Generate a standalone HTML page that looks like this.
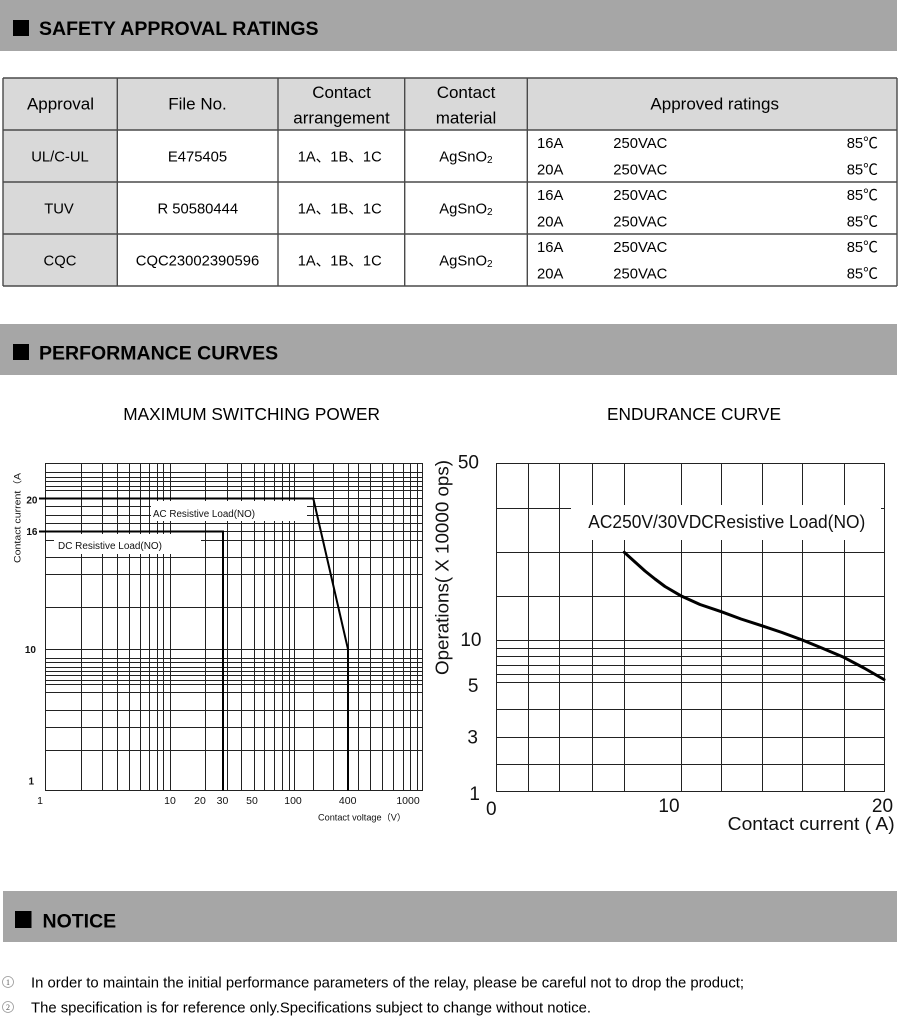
<!DOCTYPE html>
<html>
<head>
<meta charset="utf-8">
<style>
html,body{margin:0;padding:0;background:#fff;}
svg{display:block;}
</style>
</head>
<body>
<svg width="900" height="1016" viewBox="0 0 900 1016" xmlns="http://www.w3.org/2000/svg" font-family="'Liberation Sans', Arial, 'Noto Sans CJK SC', sans-serif">
<rect x="0" y="0" width="900" height="1016" fill="#fff"/>

<!-- Section bar 1 -->
<rect x="0" y="0" width="897" height="51" fill="#a6a6a6"/>
<rect x="13" y="20" width="16" height="16" fill="#000"/>
<text x="39" y="35" font-size="19.5" font-weight="bold" fill="#000">SAFETY APPROVAL RATINGS</text>

<!-- Table -->
<rect x="3" y="78" width="894" height="52" fill="#d9d9d9"/>
<rect x="3" y="130" width="114" height="156" fill="#d9d9d9"/>
<g stroke="#4a4a4a" stroke-width="1.4" fill="none">
<path d="M3 78H897M3 130H897M3 182H897M3 234H897M3 286H897"/>
<path d="M3 78V286M117.3 78V286M278 78V286M404.7 78V286M527.3 78V286M897 78V286"/>
</g>
<g font-size="17" fill="#000" text-anchor="middle">
<text x="60.5" y="109.5">Approval</text>
<text x="197.5" y="109.5">File No.</text>
<text x="341.5" y="98">Contact</text>
<text x="341.5" y="123.5">arrangement</text>
<text x="466" y="98">Contact</text>
<text x="466" y="123.5">material</text>
<text x="714.7" y="109.5">Approved ratings</text>
</g>
<g font-size="14.8" fill="#000">
<text x="60" y="161.5" text-anchor="middle">UL/C-UL</text>
<text x="59" y="213.5" text-anchor="middle">TUV</text>
<text x="60" y="265.5" text-anchor="middle">CQC</text>
<text x="197.5" y="161.5" text-anchor="middle">E475405</text>
<text x="197.8" y="213.5" text-anchor="middle">R 50580444</text>
<text x="197.5" y="265.5" text-anchor="middle">CQC23002390596</text>
<text x="297.7" y="161.5" textLength="84" lengthAdjust="spacingAndGlyphs">1A、1B、1C</text>
<text x="297.7" y="213.5" textLength="84" lengthAdjust="spacingAndGlyphs">1A、1B、1C</text>
<text x="297.7" y="265.5" textLength="84" lengthAdjust="spacingAndGlyphs">1A、1B、1C</text>
<text x="439.3" y="161.5">AgSnO<tspan font-size="10" dy="1.5">2</tspan></text>
<text x="439.3" y="213.5">AgSnO<tspan font-size="10" dy="1.5">2</tspan></text>
<text x="439.3" y="265.5">AgSnO<tspan font-size="10" dy="1.5">2</tspan></text>

<text x="537" y="148">16A</text><text x="613.3" y="148">250VAC</text><text x="846.7" y="148">85℃</text>
<text x="537" y="174.5">20A</text><text x="613.3" y="174.5">250VAC</text><text x="846.7" y="174.5">85℃</text>
<text x="537" y="200">16A</text><text x="613.3" y="200">250VAC</text><text x="846.7" y="200">85℃</text>
<text x="537" y="226.5">20A</text><text x="613.3" y="226.5">250VAC</text><text x="846.7" y="226.5">85℃</text>
<text x="537" y="252">16A</text><text x="613.3" y="252">250VAC</text><text x="846.7" y="252">85℃</text>
<text x="537" y="278.5">20A</text><text x="613.3" y="278.5">250VAC</text><text x="846.7" y="278.5">85℃</text>
</g>

<!-- Section bar 2 -->
<rect x="0" y="324" width="897" height="51" fill="#a6a6a6"/>
<rect x="13" y="344" width="16" height="16" fill="#000"/>
<text x="39" y="359.3" font-size="19.5" font-weight="bold" fill="#000">PERFORMANCE CURVES</text>

<!-- Chart titles -->
<text x="123.3" y="420" font-size="17.2" fill="#000" textLength="256.7" lengthAdjust="spacingAndGlyphs">MAXIMUM SWITCHING POWER</text>
<text x="607" y="420" font-size="17.2" fill="#000" textLength="174" lengthAdjust="spacingAndGlyphs">ENDURANCE CURVE</text>

<!-- LEFT CHART -->
<g stroke="#222" stroke-width="1" fill="none">
<path d="M45.5 463.5V790.5M81.5 463.5V790.5M102.5 463.5V790.5M117.5 463.5V790.5M129.5 463.5V790.5M140.5 463.5V790.5M149.5 463.5V790.5M157.5 463.5V790.5M163.5 463.5V790.5M170.5 463.5V790.5M205.5 463.5V790.5M227.5 463.5V790.5M241.5 463.5V790.5M254.5 463.5V790.5M264.5 463.5V790.5M274.5 463.5V790.5M282.5 463.5V790.5M289.5 463.5V790.5M294.5 463.5V790.5M313.5 463.5V790.5M333.5 463.5V790.5M348.5 463.5V790.5M358.5 463.5V790.5M370.5 463.5V790.5M382.5 463.5V790.5M393.5 463.5V790.5M403.5 463.5V790.5M410.5 463.5V790.5M417.5 463.5V790.5M422.5 463.5V790.5"/>
<path d="M45 463.5H423M45 472.5H423M45 477.5H423M45 481.5H423M45 486.5H423M45 490.5H423M45 498.5H423M45 506.5H423M45 515.5H423M45 523.5H423M45 531.5H423M45 540.5H423M45 557.5H423M45 574.5H423M45 607.5H423M45 649.5H423M45 658.5H423M45 662.5H423M45 667.5H423M45 671.5H423M45 675.5H423M45 680.5H423M45 684.5H423M45 692.5H423M45 710.5H423M45 727.5H423M45 750.5H423M45 790.5H423"/>
</g>
<!-- label boxes -->
<rect x="151" y="501" width="156" height="20" fill="#fff"/>
<rect x="54" y="534" width="147" height="20" fill="#fff"/>
<!-- thick curves -->
<g stroke="#000" stroke-width="2" fill="none" stroke-linejoin="miter">
<polyline points="39,498.5 313.3,498.5 348,649.3 348,790.5"/>
<polyline points="39,531.5 223,531.5 223,790.5"/>
</g>
<text x="153" y="517" font-size="10" fill="#111" textLength="102" lengthAdjust="spacingAndGlyphs">AC Resistive Load(NO)</text>
<text x="58" y="549" font-size="10" fill="#111" textLength="104" lengthAdjust="spacingAndGlyphs">DC Resistive Load(NO)</text>
<!-- left axes labels -->
<g font-size="10" font-weight="bold" fill="#111" text-anchor="end">
<text x="37.5" y="503.5">20</text>
<text x="37.5" y="535">16</text>
<text x="36" y="653">10</text>
<text x="34" y="784.5">1</text>
</g>
<g font-size="10.5" fill="#111" text-anchor="middle">
<text x="40" y="804">1</text>
<text x="170" y="804">10</text>
<text x="200" y="804">20</text>
<text x="222.5" y="804">30</text>
<text x="252" y="804">50</text>
<text x="293" y="804">100</text>
<text x="347.7" y="804">400</text>
<text x="408" y="804">1000</text>
</g>
<text x="318" y="820.5" font-size="9" fill="#111" textLength="88" lengthAdjust="spacingAndGlyphs">Contact voltage（V）</text>
<text transform="translate(20.5,518) rotate(-90)" text-anchor="middle" font-size="9" fill="#111" textLength="90" lengthAdjust="spacingAndGlyphs">Contact current（A</text>

<!-- RIGHT CHART -->
<g stroke="#222" stroke-width="1" fill="none">
<path d="M496.5 463.5V791.5M528.5 463.5V791.5M559.5 463.5V791.5M592.5 463.5V791.5M624.5 463.5V791.5M681.5 463.5V791.5M721.5 463.5V791.5M762.5 463.5V791.5M802.5 463.5V791.5M844.5 463.5V791.5M884.5 463.5V791.5"/>
<path d="M496 463.5H885M496 508.5H885M496 552.5H885M496 596.5H885M496 640.5H885M496 648.5H885M496 656.5H885M496 665.5H885M496 674.5H885M496 682.5H885M496 709.5H885M496 737.5H885M496 764.5H885M496 791.5H885"/>
</g>
<rect x="571" y="505" width="310" height="35" fill="#fff"/>
<text x="588.3" y="528" font-size="18" fill="#111" textLength="277" lengthAdjust="spacingAndGlyphs">AC250V/30VDCResistive Load(NO)</text>
<polyline fill="none" stroke="#000" stroke-width="3" stroke-linejoin="round" stroke-linecap="round" points="624.3,552.3 635,562 645,571 655,579 665,586.5 680.7,595.7 700,604.5 721.3,611.7 741,619 761.7,625.7 782,632.5 802.3,640 823,648.5 843.7,657.3 864,668 884,679.5"/>
<g font-size="19" fill="#111">
<text x="479" y="468.5" text-anchor="end">50</text>
<text x="481.5" y="646" text-anchor="end">10</text>
<text x="478.5" y="692" text-anchor="end">5</text>
<text x="478" y="743.5" text-anchor="end">3</text>
<text x="480" y="800" text-anchor="end">1</text>
<text x="486" y="815">0</text>
<text x="669" y="812" text-anchor="middle">10</text>
<text x="882.5" y="812" text-anchor="middle">20</text>
</g>
<text x="727.7" y="830" font-size="18" fill="#111" textLength="167" lengthAdjust="spacingAndGlyphs">Contact current ( A)</text>
<text transform="translate(448.5,567.5) rotate(-90)" text-anchor="middle" font-size="18" fill="#111" textLength="215" lengthAdjust="spacingAndGlyphs">Operations( X 10000 ops)</text>

<!-- Section bar 3 -->
<rect x="3" y="891" width="894" height="51" fill="#a6a6a6"/>
<rect x="15" y="911" width="16.5" height="17" fill="#000"/>
<text x="42.5" y="927.3" font-size="19.5" font-weight="bold" fill="#000">NOTICE</text>

<!-- Notice items -->
<circle cx="8" cy="982" r="5.5" fill="none" stroke="#999" stroke-width="0.8"/>
<text x="8" y="985" font-size="8" fill="#555" text-anchor="middle" font-family="'Liberation Serif', serif">1</text>
<circle cx="8" cy="1007" r="5.5" fill="none" stroke="#999" stroke-width="0.8"/>
<text x="8" y="1010" font-size="8" fill="#555" text-anchor="middle" font-family="'Liberation Serif', serif">2</text>
<text x="31" y="987.5" font-size="14.8" fill="#000" textLength="713" lengthAdjust="spacingAndGlyphs">In order to maintain the initial performance parameters of the relay, please be careful not to drop the product;</text>
<text x="31" y="1012.5" font-size="14.8" fill="#000" textLength="560" lengthAdjust="spacingAndGlyphs">The specification is for reference only.Specifications subject to change without notice.</text>
</svg>
</body>
</html>
